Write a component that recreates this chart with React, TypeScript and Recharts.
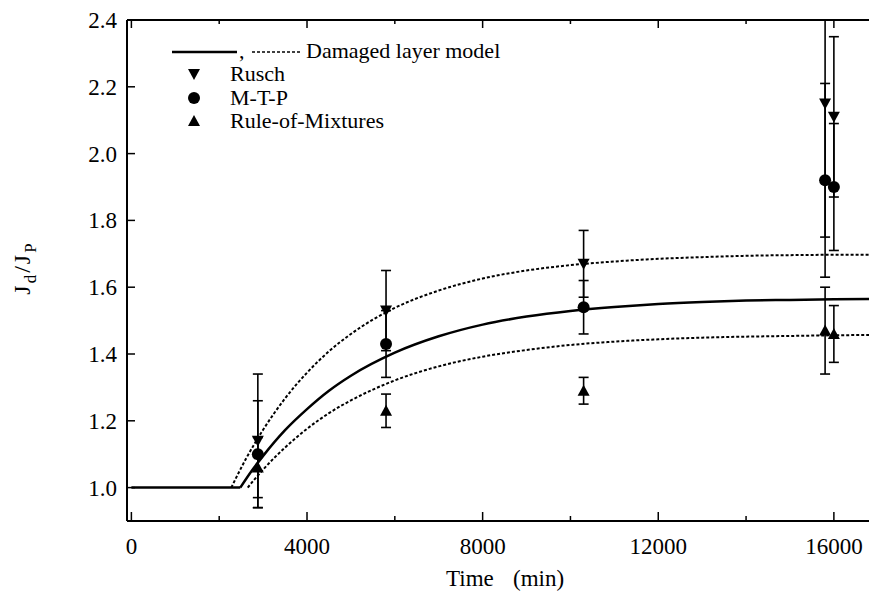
import React from "react";
import { ComposedChart, Line, Scatter, ErrorBar, XAxis, YAxis } from "recharts";

// ---------- data ----------
const sampleTimes = [2880, 5800, 10300, 15800, 16000];
const ruschValues = [1.14, 1.53, 1.67, 2.15, 2.11];
const ruschErrors = [0.2, 0.12, 0.1, 0.4, 0.24];
const mtpValues = [1.1, 1.43, 1.54, 1.92, 1.9];
const mtpErrors = [0.16, 0.1, 0.08, 0.29, 0.19];
const romValues = [1.06, 1.23, 1.29, 1.47, 1.46];
const romErrors = [0.09, 0.05, 0.04, 0.13, 0.085];

const baseTimes = [0, 2480];
const baseValues = [1.0, 1.0];

const modelTimes = [2480, 2750, 3000, 3500, 4000, 4500, 5000, 6000, 7000, 8000, 9000, 10000, 11000, 12000, 13000, 14000, 15000, 16000, 16800];
const modelValues = [1.0, 1.052, 1.095, 1.172, 1.235, 1.29, 1.335, 1.404, 1.453, 1.488, 1.512, 1.529, 1.541, 1.55, 1.556, 1.56, 1.562, 1.564, 1.565];

const upperTimes = [2275, 2600, 3000, 3500, 4000, 4500, 5000, 6000, 7000, 8000, 9000, 10000, 11000, 12000, 13000, 14000, 15000, 16000, 16800];
const upperValues = [1.0, 1.084, 1.173, 1.267, 1.344, 1.408, 1.46, 1.538, 1.59, 1.626, 1.65, 1.666, 1.677, 1.685, 1.69, 1.694, 1.696, 1.697, 1.697];

const lowerTimes = [2650, 2800, 3000, 3500, 4000, 4500, 5000, 6000, 7000, 8000, 9000, 10000, 11000, 12000, 13000, 14000, 15000, 16000, 16800];
const lowerValues = [1.0, 1.024, 1.054, 1.12, 1.176, 1.223, 1.261, 1.321, 1.363, 1.392, 1.412, 1.427, 1.437, 1.444, 1.449, 1.452, 1.454, 1.456, 1.457];

const xTicks = [0, 2000, 4000, 6000, 8000, 10000, 12000, 14000, 16000];
const xLabelTicks = [0, 4000, 8000, 12000, 16000];
const yTicks = [1.0, 1.2, 1.4, 1.6, 1.8, 2.0, 2.2, 2.4];
const yDomain = [0.9, 2.4];
const xDomain = [-100, 16800];

const legendLabels = ["Damaged layer model", "Rusch", "M-T-P", "Rule-of-Mixtures"];

// ---------- helpers ----------
// error bars are cut at the top of the frame, as in the original plot
const pts = (ts: number[], vs: number[], es?: number[]) =>
  ts.map((t, i) =>
    es ? { t, v: vs[i], e: [es[i], Math.min(es[i], yDomain[1] - vs[i])] } : { t, v: vs[i] }
  );

const FONT = "'Liberation Serif', 'Times New Roman', serif";
const W = 869;
const H = 603;

const TriDown = ({ cx, cy }: any) => (
  <path d={`M${cx - 6},${cy - 5} L${cx + 6},${cy - 5} L${cx},${cy + 6} Z`} fill="#000" />
);
const TriUp = ({ cx, cy }: any) => (
  <path d={`M${cx - 6},${cy + 5} L${cx + 6},${cy + 5} L${cx},${cy - 6} Z`} fill="#000" />
);
const Dot = ({ cx, cy }: any) => <circle cx={cx} cy={cy} r={6} fill="#000" />;

const XTick = (props: any) => {
  const { x, y, payload } = props;
  const major = xLabelTicks.includes(payload.value);
  return (
    <g>
      <line x1={x} x2={x} y1={y} y2={y - (major ? 9 : 5)} stroke="#000" strokeWidth={1.5} />
      {major && (
        <text x={x} y={y + 33} textAnchor="middle" fontFamily={FONT} fontSize={23} fill="#000">
          {payload.value}
        </text>
      )}
    </g>
  );
};

const TopTick = (props: any) => {
  const { x, y, payload } = props;
  const major = xLabelTicks.includes(payload.value);
  return <line x1={x} x2={x} y1={y} y2={y + (major ? 8 : 4)} stroke="#000" strokeWidth={1.5} />;
};

const YTick = (props: any) => {
  const { x, y, payload } = props;
  return (
    <g>
      <line x1={x} x2={x + 8} y1={y} y2={y} stroke="#000" strokeWidth={1.5} />
      <text x={x - 10} y={y} dy="0.35em" textAnchor="end" fontFamily={FONT} fontSize={23} fill="#000">
        {Number(payload.value).toFixed(1)}
      </text>
    </g>
  );
};

export default function App() {
  return (
    <div style={{ position: "absolute", left: 0, top: 0, width: W, height: H, overflow: "hidden", background: "#fff" }}>
      <ComposedChart width={W} height={H} margin={{ top: 19, right: 0, bottom: 81, left: 126 }}>
        <XAxis
          dataKey="t"
          type="number"
          domain={xDomain}
          allowDataOverflow
          ticks={xTicks}
          interval={0}
          height={1}
          tickSize={0}
          tickMargin={0}
          tickLine={false}
          axisLine={{ stroke: "#000", strokeWidth: 2 }}
          tick={<XTick />}
        />
        <XAxis
          xAxisId="top"
          orientation="top"
          dataKey="t"
          type="number"
          domain={xDomain}
          allowDataOverflow
          ticks={xTicks}
          interval={0}
          height={1}
          tickSize={0}
          tickMargin={0}
          tickLine={false}
          axisLine={{ stroke: "#000", strokeWidth: 2 }}
          tick={<TopTick />}
        />
        <YAxis
          dataKey="v"
          type="number"
          domain={yDomain}
          allowDataOverflow
          ticks={yTicks}
          interval={0}
          width={1}
          tickSize={0}
          tickMargin={0}
          tickLine={false}
          axisLine={{ stroke: "#000", strokeWidth: 2 }}
          tick={<YTick />}
        />
        <Line data={pts(baseTimes, baseValues)} dataKey="v" type="linear" stroke="#000" strokeWidth={2.5} dot={false} isAnimationActive={false} />
        <Line data={pts(modelTimes, modelValues)} dataKey="v" type="monotone" stroke="#000" strokeWidth={2.5} dot={false} isAnimationActive={false} />
        <Line data={pts(upperTimes, upperValues)} dataKey="v" type="monotone" stroke="#000" strokeWidth={2} strokeDasharray="3 2" dot={false} isAnimationActive={false} />
        <Line data={pts(lowerTimes, lowerValues)} dataKey="v" type="monotone" stroke="#000" strokeWidth={2} strokeDasharray="3 2" dot={false} isAnimationActive={false} />
        <Scatter data={pts(sampleTimes, ruschValues, ruschErrors)} dataKey="v" shape={<TriDown />} isAnimationActive={false}>
          <ErrorBar dataKey="e" direction="y" width={5} stroke="#000" strokeWidth={1.6} />
        </Scatter>
        <Scatter data={pts(sampleTimes, mtpValues, mtpErrors)} dataKey="v" shape={<Dot />} isAnimationActive={false}>
          <ErrorBar dataKey="e" direction="y" width={5} stroke="#000" strokeWidth={1.6} />
        </Scatter>
        <Scatter data={pts(sampleTimes, romValues, romErrors)} dataKey="v" shape={<TriUp />} isAnimationActive={false}>
          <ErrorBar dataKey="e" direction="y" width={5} stroke="#000" strokeWidth={1.6} />
        </Scatter>
      </ComposedChart>
      <svg width={W} height={H} style={{ position: "absolute", left: 0, top: 0, pointerEvents: "none" }}>
        <g fontFamily={FONT} fontSize={22} fill="#000">
          <line x1={172} x2={237} y1={52} y2={52} stroke="#000" strokeWidth={2.5} />
          <text x={239} y={58}>,</text>
          <line x1={252} x2={300} y1={52} y2={52} stroke="#000" strokeWidth={1.5} strokeDasharray="3 2" />
          <text x={306} y={58}>{legendLabels[0]}</text>
          <TriDown cx={194} cy={74} />
          <text x={230} y={81}>{legendLabels[1]}</text>
          <Dot cx={194} cy={98} />
          <text x={230} y={105}>{legendLabels[2]}</text>
          <TriUp cx={194} cy={121} />
          <text x={230} y={128}>{legendLabels[3]}</text>
        </g>
        <text y={586} fontFamily={FONT} fontSize={23} fill="#000">
          <tspan x={446}>Time</tspan>
          <tspan x={513}>(min)</tspan>
        </text>
        <text transform="translate(30,268) rotate(-90)" textAnchor="middle" fontFamily={FONT} fontSize={24} fill="#000" letterSpacing={2}>
          J<tspan dy="6" fontSize="17">d</tspan>
          <tspan dy="-6">/J</tspan>
          <tspan dy="6" fontSize="17">P</tspan>
        </text>
      </svg>
    </div>
  );
}
